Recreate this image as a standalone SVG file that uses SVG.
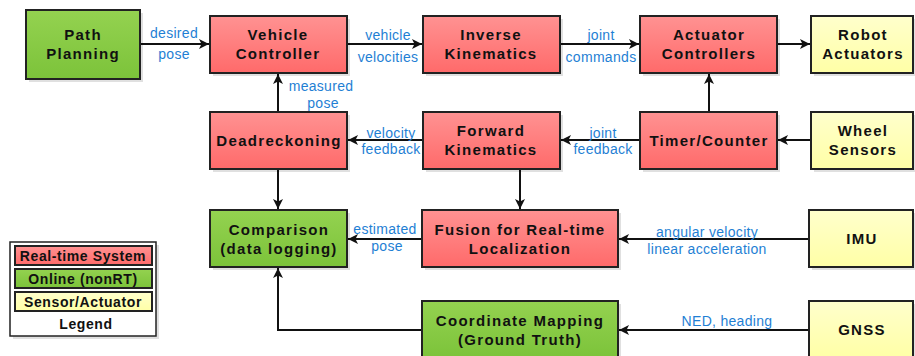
<svg xmlns="http://www.w3.org/2000/svg" width="915" height="356" viewBox="0 0 915 356">
<defs>
<linearGradient id="gRed" x1="0" y1="0" x2="0" y2="1"><stop offset="0" stop-color="#ff9292"/><stop offset="1" stop-color="#ff6a6a"/></linearGradient>
<linearGradient id="gGreen" x1="0" y1="0" x2="0" y2="1"><stop offset="0" stop-color="#94d250"/><stop offset="1" stop-color="#7cc33a"/></linearGradient>
<linearGradient id="gYellow" x1="0" y1="0" x2="0" y2="1"><stop offset="0" stop-color="#ffffcc"/><stop offset="1" stop-color="#ffffa6"/></linearGradient>
<marker id="arr" viewBox="0 0 10 10" refX="10" refY="5" markerWidth="10" markerHeight="10" markerUnits="userSpaceOnUse" orient="auto"><path d="M0,0 L10,5 L0,10 L2.5,5 z" fill="#111"/></marker>
</defs>
<style>
.box{stroke:#222;stroke-width:2}
.red{fill:url(#gRed)}
.green{fill:url(#gGreen)}
.yellow{fill:url(#gYellow)}
.sh{fill:#000;opacity:0.12}
.t{font-family:"Liberation Sans",Arial,sans-serif;font-weight:bold;font-size:15px;letter-spacing:1.3px;fill:#111;text-anchor:middle}
.lt{font-family:"Liberation Sans",Arial,sans-serif;font-weight:bold;font-size:14px;letter-spacing:0.6px;fill:#111;text-anchor:middle}
.l{font-family:"Liberation Sans",Arial,sans-serif;font-size:14px;letter-spacing:0.3px;fill:#1f7fd4;text-anchor:middle}
.c{fill:none;stroke:#111;stroke-width:2;marker-end:url(#arr)}
</style>
<g id="connectors">
<line class="c" x1="141" y1="44" x2="209" y2="44"/>
<line class="c" x1="348" y1="44" x2="422" y2="44"/>
<line class="c" x1="561" y1="44" x2="639" y2="44"/>
<line class="c" x1="778" y1="44" x2="810" y2="44"/>
<line class="c" x1="709" y1="111" x2="709" y2="74"/>
<line class="c" x1="810" y1="140" x2="778" y2="140"/>
<line class="c" x1="639" y1="140" x2="561" y2="140"/>
<line class="c" x1="422" y1="140" x2="348" y2="140"/>
<line class="c" x1="278" y1="111" x2="278" y2="74"/>
<line class="c" x1="278" y1="170" x2="278" y2="209"/>
<line class="c" x1="520" y1="170" x2="520" y2="209"/>
<line class="c" x1="808" y1="239" x2="619" y2="239"/>
<line class="c" x1="421" y1="239" x2="348" y2="239"/>
<line class="c" x1="808" y1="330" x2="619" y2="330"/>
<polyline class="c" points="421,330 278,330 278,268"/>
</g>
<g id="labels">
<text class="l" x="174" y="38">desired</text>
<text class="l" x="174" y="59">pose</text>
<text class="l" x="388" y="40">vehicle</text>
<text class="l" x="388" y="62">velocities</text>
<text class="l" x="601" y="40">joint</text>
<text class="l" x="601" y="62">commands</text>
<text class="l" x="321" y="91">measured</text>
<text class="l" x="323" y="108">pose</text>
<text class="l" x="391" y="138">velocity</text>
<text class="l" x="391" y="154">feedback</text>
<text class="l" x="603" y="138">joint</text>
<text class="l" x="603" y="154">feedback</text>
<text class="l" x="385" y="234">estimated</text>
<text class="l" x="387" y="251">pose</text>
<text class="l" x="707" y="237">angular velocity</text>
<text class="l" x="707" y="254">linear acceleration</text>
<text class="l" x="727" y="326">NED, heading</text>
</g>
<g id="path-planning"><rect class="sh" x="29" y="13" width="114" height="69"/><rect class="box green" x="26" y="10" width="114" height="69"/><text class="t" x="83" y="40">Path</text><text class="t" x="83" y="59">Planning</text></g>
<g id="vehicle-controller"><rect class="sh" x="213" y="19" width="137" height="57"/><rect class="box red" x="210" y="16" width="137" height="57"/><text class="t" x="278" y="40">Vehicle</text><text class="t" x="278" y="59">Controller</text></g>
<g id="inverse-kinematics"><rect class="sh" x="426" y="19" width="137" height="57"/><rect class="box red" x="423" y="16" width="137" height="57"/><text class="t" x="491" y="40">Inverse</text><text class="t" x="491" y="59">Kinematics</text></g>
<g id="actuator-controllers"><rect class="sh" x="643" y="19" width="137" height="57"/><rect class="box red" x="640" y="16" width="137" height="57"/><text class="t" x="709" y="40">Actuator</text><text class="t" x="709" y="59">Controllers</text></g>
<g id="robot-actuators"><rect class="sh" x="814" y="19" width="102" height="57"/><rect class="box yellow" x="811" y="16" width="102" height="57"/><text class="t" x="863" y="40">Robot</text><text class="t" x="863" y="59">Actuators</text></g>
<g id="deadreckoning"><rect class="sh" x="213" y="115" width="137" height="57"/><rect class="box red" x="210" y="112" width="137" height="57"/><text class="t" x="279" y="146">Deadreckoning</text></g>
<g id="forward-kinematics"><rect class="sh" x="426" y="115" width="137" height="57"/><rect class="box red" x="423" y="112" width="137" height="57"/><text class="t" x="491" y="136">Forward</text><text class="t" x="491" y="155">Kinematics</text></g>
<g id="timer-counter"><rect class="sh" x="643" y="115" width="137" height="57"/><rect class="box red" x="640" y="112" width="137" height="57"/><text class="t" x="709" y="146">Timer/Counter</text></g>
<g id="wheel-sensors"><rect class="sh" x="814" y="115" width="102" height="57"/><rect class="box yellow" x="811" y="112" width="102" height="57"/><text class="t" x="863" y="136">Wheel</text><text class="t" x="863" y="155">Sensors</text></g>
<g id="comparison"><rect class="sh" x="213" y="213" width="137" height="57"/><rect class="box green" x="210" y="210" width="137" height="57"/><text class="t" x="279" y="235">Comparison</text><text class="t" x="279" y="254">(data logging)</text></g>
<g id="fusion"><rect class="sh" x="425" y="213" width="196" height="57"/><rect class="box red" x="422" y="210" width="196" height="57"/><text class="t" x="520" y="235">Fusion for Real-time</text><text class="t" x="520" y="254">Localization</text></g>
<g id="imu"><rect class="sh" x="812" y="213" width="104" height="57"/><rect class="box yellow" x="809" y="210" width="104" height="57"/><text class="t" x="862" y="244">IMU</text></g>
<g id="coordinate-mapping"><rect class="sh" x="425" y="304" width="196" height="57"/><rect class="box green" x="422" y="301" width="196" height="57"/><text class="t" x="520" y="326">Coordinate Mapping</text><text class="t" x="520" y="345">(Ground Truth)</text></g>
<g id="gnss"><rect class="sh" x="812" y="304" width="104" height="57"/><rect class="box yellow" x="809" y="301" width="104" height="57"/><text class="t" x="862" y="335">GNSS</text></g>
<g id="legend">
<rect class="sh" x="13" y="245" width="146" height="94"/>
<rect x="10" y="242" width="146" height="94" fill="#fff" stroke="#222" stroke-width="1.5"/>
<rect class="box red" x="15" y="246" width="137" height="19" stroke-width="1.5"/>
<text class="lt" x="83" y="261">Real-time System</text>
<rect class="box green" x="15" y="269" width="137" height="19" stroke-width="1.5"/>
<text class="lt" x="83" y="284">Online (nonRT)</text>
<rect class="box yellow" x="15" y="292" width="137" height="19" stroke-width="1.5"/>
<text class="lt" x="83" y="307">Sensor/Actuator</text>
<text class="lt" x="86" y="329">Legend</text>
</g>
</svg>
